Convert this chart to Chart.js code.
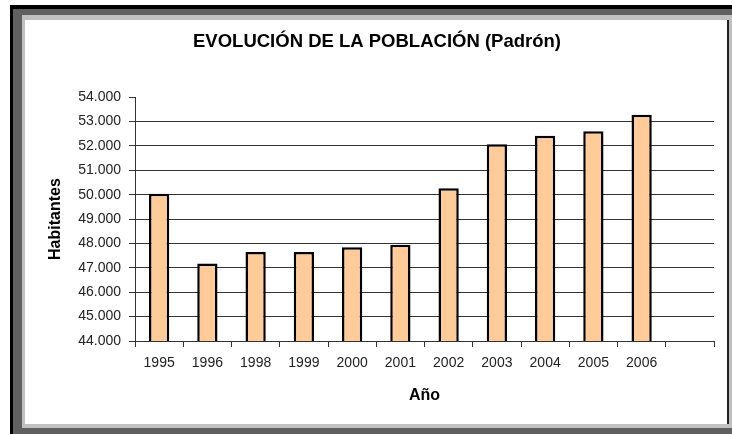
<!DOCTYPE html>
<html>
<head>
<meta charset="utf-8">
<script src="https://cdn.jsdelivr.net/npm/chart.js@4"></script>
<style>
    body { margin: 0; background: #fff; }
    #wrap { position: relative; width: 732px; height: 434px; overflow: hidden; }
    .f { position: absolute; }
    #myChart { position: absolute; left: 0; top: 0; }
</style>
</head>
<body>
<div id="wrap">
    <!-- window-style frame round the chart -->
    <div class="f" style="left:10px;top:5px;right:0;bottom:0;background:#000"></div>
    <div class="f" style="left:13px;top:9px;right:0;bottom:0;background:#606060"></div>
    <div class="f" style="left:22px;top:15px;right:0;bottom:6px;background:#c0c0c0"></div>
    <div class="f" style="left:25px;top:20px;width:702px;height:404px;background:#fff"></div>
    <div class="f" style="left:727px;top:20px;width:2px;height:404px;background:#222"></div>
    <canvas id="myChart" width="732" height="434"></canvas>
</div>
<script>
var years = ['1995', '1996', '1998', '1999', '2000', '2001', '2002', '2003', '2004', '2005', '2006', '']
var habitantes = [50040, 47180, 47650, 47650, 47850, 47950, 50270, 52070, 52420, 52600, 53280, null]
var yMin = 44000
var yMax = 54000
var yStep = 1000

const font = "'Liberation Sans', Arial, sans-serif"

// 54000 -> "54.000"
function miles(v) {
    return String(v).replace(/\B(?=(\d{3})+(?!\d))/g, '.')
}

const ctx = document.getElementById('myChart');

var myChart = new Chart(ctx, {
    type: 'bar',
    data: {
        labels: years,
        datasets: [{
            label: 'Habitantes',
            data: habitantes,
            backgroundColor: '#FFCC99',
            borderColor: '#000',
            borderWidth: 2.5,
            categoryPercentage: 0.42,
            barPercentage: 1
        }]
    },
    options: {
        responsive: false,
        animation: false,
        devicePixelRatio: 1,
        layout: {
            padding: { left: 40, right: 18, top: 0, bottom: 20 }
        },
        plugins: {
            legend: { display: false },
            tooltip: { enabled: false },
            title: {
                display: true,
                text: 'EVOLUCIÓN DE LA POBLACIÓN (Padrón)',
                color: '#000',
                font: { family: font, size: 18.5, weight: 'bold', lineHeight: 1.2 },
                padding: { top: 31, bottom: 44 }
            }
        },
        scales: {
            x: {
                afterFit: function(scale) { scale.height = 73 },
                border: { color: '#333', width: 1 },
                grid: {
                    offset: true,
                    drawOnChartArea: false,
                    drawTicks: true,
                    tickLength: 6,
                    tickColor: '#333'
                },
                ticks: {
                    color: '#222',
                    padding: 8,
                    maxRotation: 0,
                    autoSkip: false,
                    font: { family: font, size: 14 }
                },
                title: {
                    display: true,
                    text: 'Año',
                    color: '#000',
                    font: { family: font, size: 16, weight: 'bold', lineHeight: 1.2 },
                    padding: { top: 0, bottom: 9 }
                }
            },
            y: {
                min: yMin,
                max: yMax,
                afterFit: function(scale) { scale.width = 95 },
                border: { color: '#333', width: 1 },
                grid: {
                    color: function(c) { return c.tick && c.tick.value === yMax ? 'rgba(0,0,0,0)' : '#333' },
                    tickColor: '#333',
                    tickLength: 6
                },
                ticks: {
                    stepSize: yStep,
                    color: '#222',
                    padding: 8,
                    font: { family: font, size: 14 },
                    callback: function(v) { return miles(v) }
                },
                title: {
                    display: true,
                    text: 'Habitantes',
                    color: '#000',
                    font: { family: font, size: 16, weight: 'bold', lineHeight: 1.2 },
                    padding: { top: 6, bottom: 0 }
                }
            }
        }
    }
});
</script>
</body>
</html>
